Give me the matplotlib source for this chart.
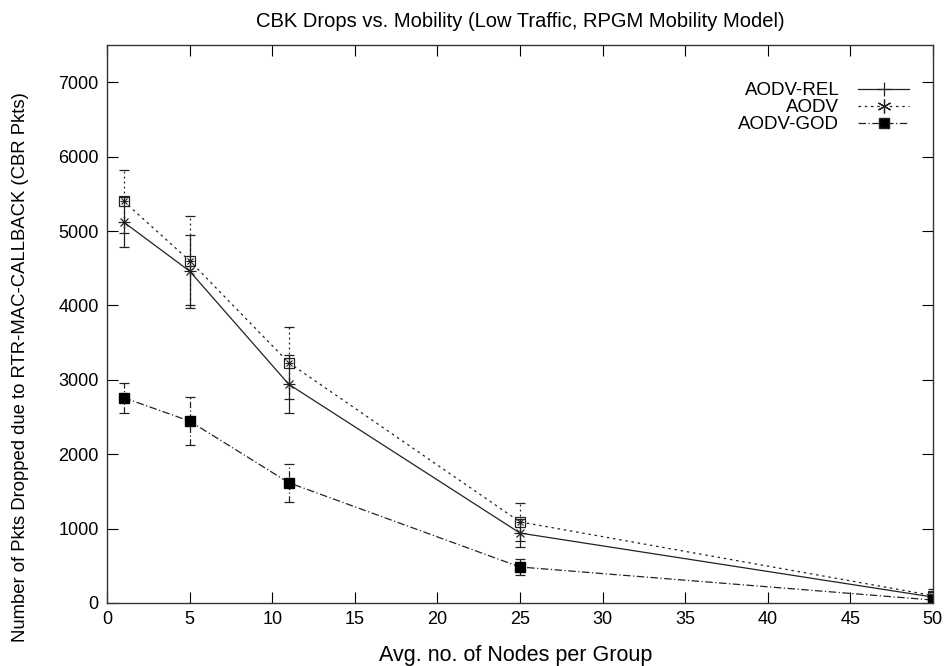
import matplotlib
matplotlib.use("Agg")
import matplotlib.pyplot as plt
from matplotlib.lines import Line2D

plt.rcParams['font.family'] = ['Liberation Sans', 'DejaVu Sans']

x = [1, 5, 11, 25, 50]
rel = [5120, 4460, 2940, 940, 80]
rel_err = [340, 490, 390, 190, 70]
aodv = [5400, 4600, 3230, 1090, 100]
aodv_err = [420, 600, 485, 250, 90]
god = [2760, 2445, 1617, 484, 40]
god_err = [200, 320, 258, 110, 30]

title = "CBK Drops vs. Mobility (Low Traffic, RPGM Mobility Model)"
xlabel = "Avg. no. of Nodes per Group"
ylabel = "Number of Pkts Dropped due to RTR-MAC-CALLBACK (CBR Pkts)"

fig = plt.figure(figsize=(9.48, 6.66), dpi=100)
ax = fig.add_axes([0.113, 0.0946, 0.871, 0.8378])

lc = '#222222'
# error bars
e1 = ax.errorbar(x, aodv, yerr=aodv_err, fmt='none', ecolor=lc, elinewidth=0.9, capsize=3.6, capthick=0.9)
e1[2][0].set_linestyle((0, (1.5, 2.5)))
e2 = ax.errorbar(x, rel, yerr=rel_err, fmt='none', ecolor=lc, elinewidth=0.9, capsize=3.6, capthick=0.9)
e3 = ax.errorbar(x, god, yerr=god_err, fmt='none', ecolor=lc, elinewidth=0.9, capsize=3.6, capthick=0.9)
e3[2][0].set_linestyle((0, (5, 2, 1, 2)))

# lines
ax.plot(x, rel, color=lc, lw=0.9, ls='-')
ax.plot(x, rel, color=lc, lw=0, marker='+', ms=8, mew=0.9)
ax.plot(x, rel, color=lc, lw=0, marker='x', ms=6, mew=0.9)
ax.plot(x, aodv, color=lc, lw=0.9, ls=(0, (2, 3)))
ax.plot(x, aodv, color=lc, lw=0, marker='s', ms=6.5, mfc='none', mew=0.9)
ax.plot(x, aodv, color=lc, lw=0, marker='+', ms=5.5, mew=0.8)
ax.plot(x, aodv, color=lc, lw=0, marker='x', ms=4, mew=0.8)
ax.plot(x, god, color=lc, lw=0.9, ls=(0, (6, 2, 1, 2)))
ax.plot(x, god, color='black', lw=0, marker='s', ms=7)

ax.set_xlim(0, 50)
ax.set_ylim(0, 7500)
ax.set_xticks(range(0, 51, 5))
ax.set_yticks(range(0, 7001, 1000))
ax.tick_params(direction='in', length=8, top=True, right=True, labelsize=13, pad=6)
for s in ax.spines.values():
    s.set_color('#333333')
    s.set_linewidth(1.0)

ax.set_title(title, fontsize=14.5, pad=13)
ax.set_xlabel(xlabel, fontsize=15.5, labelpad=2)
ax.xaxis.set_label_coords(0.495, -0.075)
ax.set_ylabel(ylabel, fontsize=13.3)
ax.yaxis.set_label_coords(-0.095, 0.423)

handles = [
    Line2D([], [], color=lc, lw=0.9, ls='-', marker='+', ms=10, mew=0.9),
    Line2D([], [], color=lc, lw=0.9, ls=(0, (2, 3)), marker=(6, 2, 0), ms=10, mew=0.9),
    Line2D([], [], color=lc, lw=0.9, ls=(0, (6, 2, 1, 2)), marker='s', ms=7, mfc='black'),
]
leg = ax.legend(handles, ['AODV-REL', 'AODV', 'AODV-GOD'], loc='upper right',
                bbox_to_anchor=(0.98, 0.947),
                frameon=False, markerfirst=False, fontsize=13.5, handlelength=2.7,
                labelspacing=0.0, borderaxespad=0.0, handletextpad=1.0)
for t in leg.get_texts():
    t.set_ha('right')
leg._legend_box.align = 'right'

fig.savefig('out.png', dpi=100)
